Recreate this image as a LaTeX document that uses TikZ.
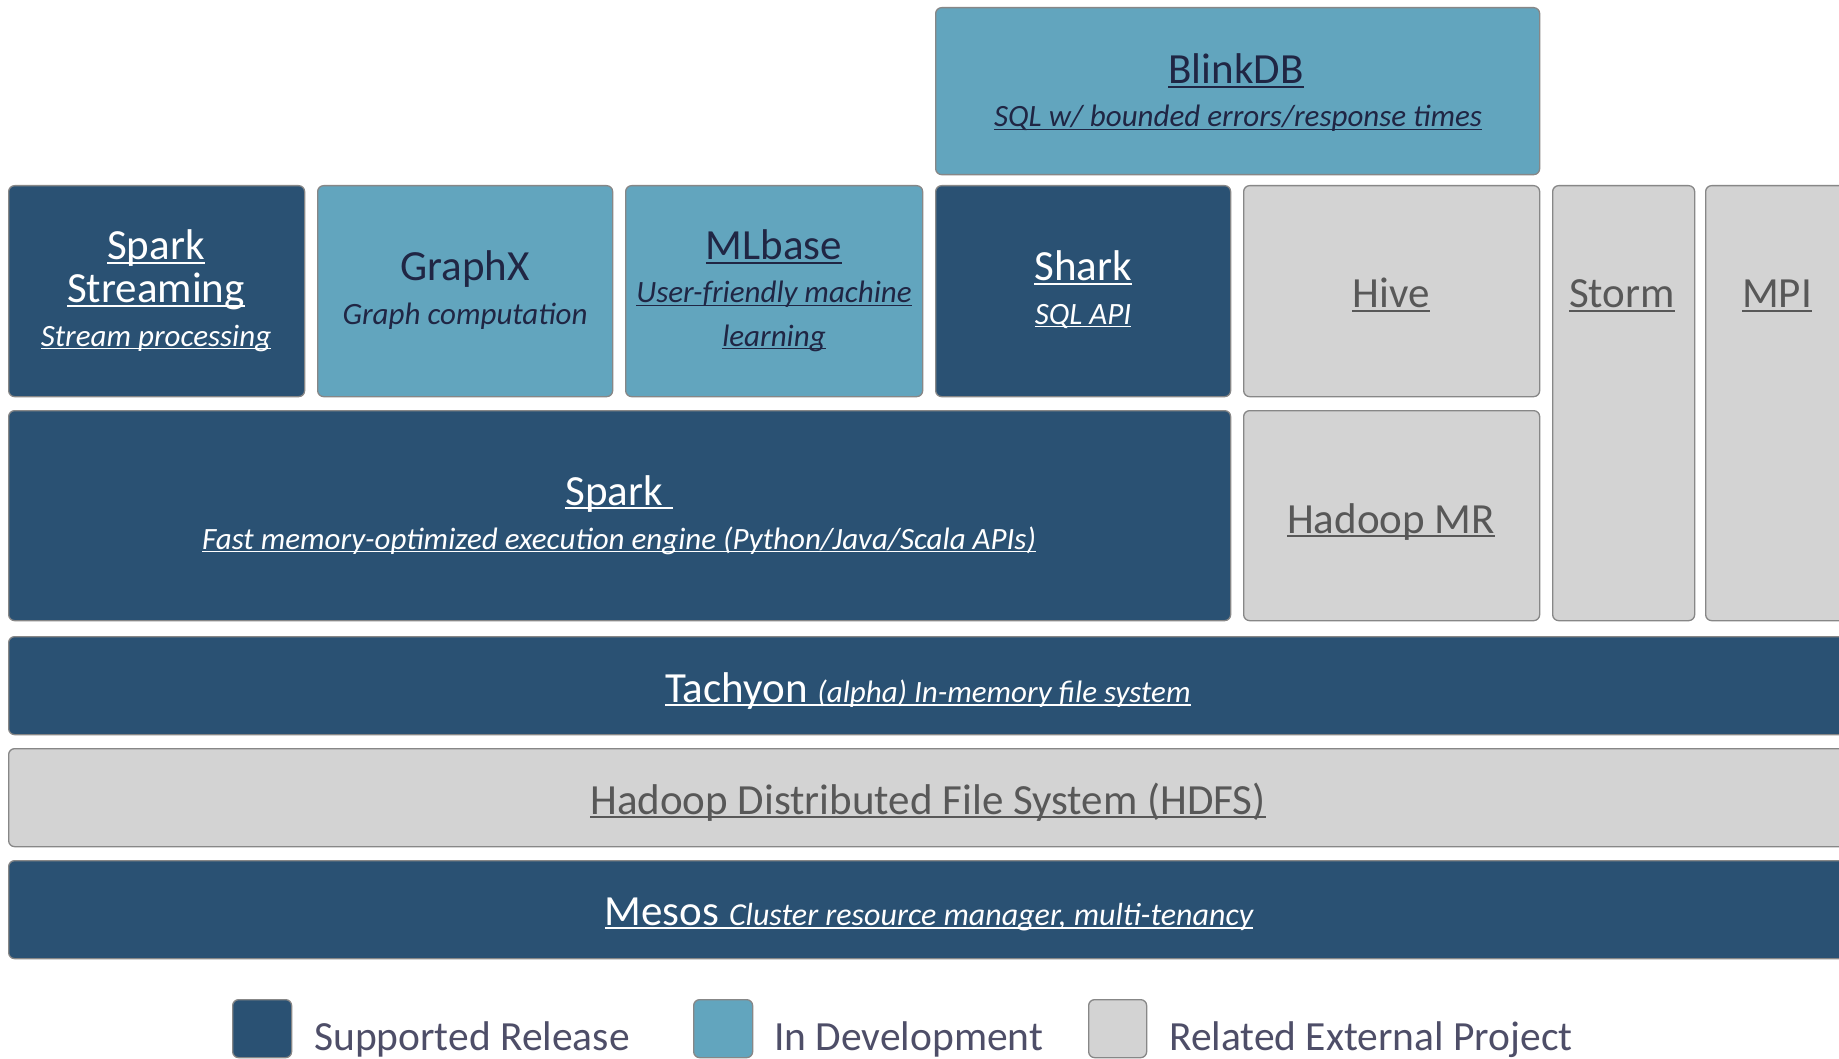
\documentclass[tikz,border=0pt]{standalone}
\usepackage{fontspec}
\setmainfont{Carlito}
\definecolor{darkfill}{RGB}{42,81,115}
\definecolor{lightfill}{RGB}{98,165,190}
\definecolor{grayfill}{RGB}{211,211,211}
\definecolor{edgecol}{RGB}{135,135,135}
\definecolor{navytext}{RGB}{32,38,68}
\definecolor{graytext}{RGB}{88,88,88}
\definecolor{legtext}{RGB}{78,78,104}
\newcommand\myul[1]{\setbox0=\hbox{#1}\rlap{\rule[-0.1em]{\wd0}{0.05em}}\box0}
\newcommand\tsize{\fontsize{43}{50}\selectfont}
\newcommand\ssize{\fontsize{31}{36}\selectfont\itshape}
\newcommand\lsize{\fontsize{41.5}{48}\selectfont}
\begin{document}
\begin{tikzpicture}[x=1pt,y=-1pt,
  blk/.style={draw=edgecol, line width=1.3pt, rounded corners=6pt, inner sep=0pt, anchor=north west},
  supbox/.style={blk, fill=darkfill},
  devbox/.style={blk, fill=lightfill},
  extbox/.style={blk, fill=grayfill},
  lbl/.style={anchor=base, inner sep=0pt, font=\tsize},
  sublbl/.style={anchor=base, inner sep=0pt, font=\ssize},
  leglbl/.style={anchor=base west, inner sep=0pt, font=\lsize, text=legtext},
  onsup/.style={text=white},
  ondev/.style={text=navytext},
  onext/.style={text=graytext}
]
\useasboundingbox (0,0) rectangle (1839,1059);
\clip (0,0) rectangle (1839,1059);
\fill[white] (0,0) rectangle (1839,1059);

% boxes
\node[devbox, minimum width=604pt, minimum height=167pt] (blink) at (935,7) {};
\node[supbox, minimum width=296pt, minimum height=211pt] (sstream) at (8,185) {};
\node[devbox, minimum width=295pt, minimum height=211pt] (graphx) at (317,185) {};
\node[devbox, minimum width=297pt, minimum height=211pt] (mlbase) at (625,185) {};
\node[supbox, minimum width=295pt, minimum height=211pt] (shark) at (935,185) {};
\node[extbox, minimum width=296pt, minimum height=211pt] (hive) at (1243,185) {};
\node[extbox, minimum width=142pt, minimum height=435pt] (storm) at (1552,185) {};
\node[extbox, minimum width=155pt, minimum height=435pt] (mpi) at (1705,185) {};
\node[supbox, minimum width=1222pt, minimum height=210pt] (spark) at (8,410) {};
\node[extbox, minimum width=296pt, minimum height=210pt] (hadoopmr) at (1243,410) {};
\node[supbox, minimum width=1852pt, minimum height=98pt] (tachyon) at (8,636) {};
\node[extbox, minimum width=1852pt, minimum height=98pt] (hdfs) at (8,748) {};
\node[supbox, minimum width=1852pt, minimum height=98pt] (mesos) at (8,860) {};
\node[supbox, minimum width=59pt, minimum height=58pt] (legsup) at (232,999) {};
\node[devbox, minimum width=59pt, minimum height=58pt] (legdev) at (693,999) {};
\node[extbox, minimum width=58pt, minimum height=58pt] (legext) at (1088,999) {};

% labels
\node[lbl, ondev] (blinkT) at (1236,84) {\myul{BlinkDB}};
\node[sublbl, ondev] (blinkS) at (1238,127) {\myul{SQL w/ bounded errors/response times}};

\node[lbl, onsup] (sstreamT1) at (156,260) {\myul{Spark}};
\node[lbl, onsup] (sstreamT2) at (156,303) {\myul{Streaming}};
\node[sublbl, onsup] (sstreamS) at (156,346) {\myul{Stream processing}};

\node[lbl, ondev] (graphxT) at (465,281) {GraphX};
\node[sublbl, ondev] (graphxS) at (465,324) {Graph computation};

\node[lbl, ondev] (mlbaseT) at (774,260) {\myul{MLbase}};
\node[sublbl, ondev] (mlbaseS1) at (774,303) {\myul{User-friendly machine}};
\node[sublbl, ondev] (mlbaseS2) at (774,346) {\myul{learning}};

\node[lbl, onsup] (sharkT) at (1083,281) {\myul{Shark}};
\node[sublbl, onsup] (sharkS) at (1083,324) {\myul{SQL API}};

\node[lbl, onext] (hiveT) at (1391,308) {\myul{Hive}};
\node[lbl, onext] (stormT) at (1622,308) {\myul{Storm}};
\node[lbl, onext] (mpiT) at (1777,308) {\myul{MPI}};

\node[lbl, onsup] (sparkT) at (619,505) {\myul{Spark\ }};
\node[sublbl, onsup] (sparkS) at (619,549) {\myul{Fast memory-optimized execution engine (Python/Java/Scala APIs)}};

\node[lbl, onext] (hadoopmrT) at (1391,533) {\myul{Hadoop MR}};

\node[lbl, onsup] (tachyonT) at (928,702) {\myul{Tachyon {\ssize (alpha) In-memory file system}}};
\node[lbl, onext] (hdfsT) at (928,814) {\myul{Hadoop Distributed File System (HDFS)}};
\node[lbl, onsup] (mesosT) at (929,925) {\myul{Mesos {\fontsize{32}{36}\selectfont\itshape Cluster resource manager, multi-tenancy}}};

\node[leglbl] (legsupT) at (314,1050) {Supported Release};
\node[leglbl] (legdevT) at (774,1050) {In Development};
\node[leglbl] (legextT) at (1169,1050) {Related External Project};
\end{tikzpicture}
\end{document}
